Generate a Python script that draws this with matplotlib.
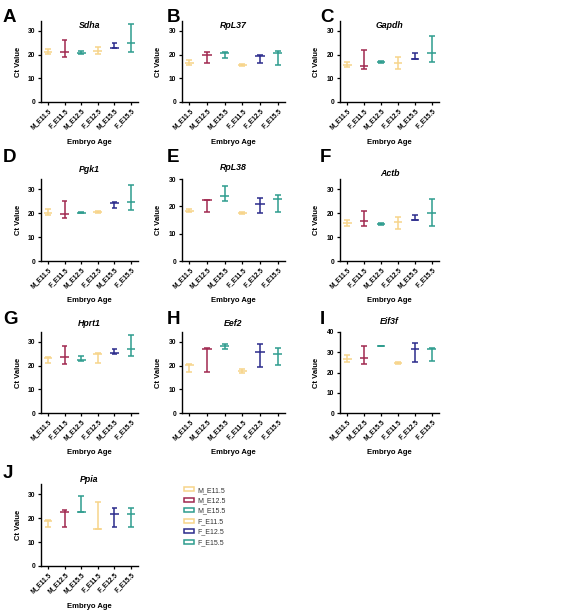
import numpy as np
import matplotlib
matplotlib.use("Agg")
import matplotlib.pyplot as plt
from matplotlib.patches import Patch

plt.rcParams['font.family'] = ['Liberation Sans', 'DejaVu Sans']

groups = ['M_E11.5', 'M_E12.5', 'M_E15.5', 'F_E11.5', 'F_E12.5', 'F_E15.5']
colors = ['#F7D48A', '#A0284F', '#2E9C8E', '#F7D48A', '#2B2B8C', '#2E9C8E']
order_a = ['M_E11.5', 'F_E11.5', 'M_E12.5', 'F_E12.5', 'M_E15.5', 'F_E15.5']
order_b = ['M_E11.5', 'M_E12.5', 'M_E15.5', 'F_E11.5', 'F_E12.5', 'F_E15.5']

letters = ['A', 'B', 'C', 'D', 'E', 'F', 'G', 'H', 'I', 'J']
genes = ['Sdha', 'RpL37', 'Gapdh', 'Pgk1', 'RpL38', 'Actb', 'Hprt1', 'Eef2', 'Eif3f', 'Ppia']
label_orders = [order_a, order_b, order_a, order_a, order_b, order_a, order_a, order_b, order_b, order_b]
ymax = [34.2, 34.2, 34.2, 34.2, 30, 34.2, 34.2, 34.2, 40, 34.2]
yticks = [[0, 10, 20, 30]] * 8 + [[0, 10, 20, 30, 40], [0, 10, 20, 30]]

means = [
    [21.0, 21.3, 20.9, 21.7, 23.0, 25.0],
    [16.5, 20.0, 20.7, 15.6, 19.6, 20.7],
    [15.6, 15.2, 16.7, 16.5, 18.1, 20.8],
    [20.1, 19.6, 20.1, 20.5, 24.0, 24.8],
    [18.4, 22.2, 23.7, 17.5, 20.9, 22.7],
    [15.7, 16.6, 15.3, 16.2, 17.0, 19.9],
    [23.2, 23.7, 22.5, 25.0, 25.3, 27.0],
    [20.2, 27.1, 28.1, 17.9, 25.6, 24.8],
    [26.6, 27.2, 33.1, 24.5, 31.6, 31.8],
    [18.6, 22.6, 22.4, 15.5, 21.8, 21.8],
]
lows = [
    [20.1, 18.8, 20.4, 20.2, 22.8, 21.3],
    [15.7, 16.4, 18.6, 15.2, 16.4, 15.6],
    [14.6, 13.8, 16.3, 14.1, 18.0, 17.0],
    [19.0, 17.9, 19.9, 20.0, 21.9, 21.2],
    [17.9, 18.1, 22.1, 17.3, 17.7, 17.9],
    [14.5, 14.5, 14.9, 13.4, 16.9, 14.8],
    [21.1, 20.8, 21.8, 21.1, 24.9, 23.9],
    [17.2, 17.5, 27.0, 16.9, 19.4, 20.1],
    [25.0, 24.4, 33.1, 24.0, 25.0, 25.6],
    [16.1, 16.3, 22.4, 15.4, 16.3, 16.3],
]
highs = [
    [22.3, 26.0, 21.4, 23.4, 25.1, 32.8],
    [17.8, 21.0, 21.3, 16.0, 19.9, 21.6],
    [17.0, 22.0, 17.2, 19.0, 20.8, 27.9],
    [21.8, 25.2, 20.3, 21.0, 24.6, 31.8],
    [18.9, 22.4, 27.6, 17.8, 23.0, 24.2],
    [17.3, 20.8, 15.7, 18.3, 19.0, 25.8],
    [23.7, 28.4, 24.2, 25.3, 27.1, 33.0],
    [20.5, 27.4, 29.2, 18.7, 29.2, 27.6],
    [28.4, 33.2, 33.1, 25.0, 34.8, 32.3],
    [19.0, 23.3, 29.3, 26.6, 24.3, 24.3],
]

W, H = 566, 616
fig = plt.figure(figsize=(W / 100, H / 100), dpi=100)

col_left = [41, 182, 340]
col_width = [97, 103, 99]
row_top = [21, 179, 332, 484]
row_bot = [102, 261, 413, 566]
letter_x = [3, 167, 320]
letter_y = [18, 157, 319, 473]
title_y = [[26, 26, 26], [170, 168, 173], [324, 324, 322], [479]]

def fx(px):
    return px / W

def fy(py):
    return 1 - py / H

for k, gene in enumerate(genes):
    r, c = divmod(k, 3)
    L, Wd = col_left[c], col_width[c]
    T, B = row_top[r], row_bot[r]
    ax = fig.add_axes([fx(L), fy(B), Wd / W, (B - T) / H])
    x = np.arange(len(groups))
    for i in x:
        col = colors[i]
        ax.vlines(i, lows[k][i], highs[k][i], color=col, lw=1.1)
        ax.hlines([lows[k][i], highs[k][i]], i - 0.17, i + 0.17, color=col, lw=1.1)
        ax.hlines(means[k][i], i - 0.26, i + 0.26, color=col, lw=1.1)
    ax.set_xlim(-0.42, 5.42)
    ax.set_ylim(0, ymax[k])
    ax.set_yticks(yticks[k])
    ax.set_xticks(x)
    ax.set_xticklabels(label_orders[k], rotation=45, ha='right', rotation_mode='anchor',
                       fontsize=4.8, fontweight='bold')
    for lab in ax.get_yticklabels():
        lab.set_fontsize(4.8)
        lab.set_fontweight('bold')
    ax.tick_params(axis='both', length=2.5, width=0.9, pad=1.5)
    for s in ['top', 'right']:
        ax.spines[s].set_visible(False)
    for s in ['left', 'bottom']:
        ax.spines[s].set_linewidth(1.0)
    fig.text(fx(18), fy((T + B) / 2) if c == 0 else fy((T + B) / 2), '', fontsize=1)
    fig.text(fx(L - 23), fy((T + B) / 2), 'Ct Value', fontsize=5.5, fontweight='bold',
             rotation=90, ha='center', va='center')
    fig.text(fx(L + Wd / 2), fy(B + 40), 'Embryo Age', fontsize=5.5, fontweight='bold',
             ha='center', va='center')
    fig.text(fx(L + Wd / 2), fy(title_y[r][c]), gene, fontsize=6.3, fontweight='bold',
             fontstyle='italic', ha='center', va='center')
    fig.text(fx(letter_x[c]), fy(letter_y[r]), letters[k], fontsize=13.5, fontweight='bold',
             ha='left', va='center')

handles = [Patch(facecolor='white', edgecolor=colors[i], linewidth=1.1, label=groups[i])
           for i in range(len(groups))]
fig.legend(handles=handles, loc='upper left', bbox_to_anchor=(fx(181), fy(484)),
           frameon=False, fontsize=5, handlelength=1.4, handleheight=0.55,
           handletextpad=0.6, labelspacing=0.5, borderaxespad=0, labelcolor='#333333')

fig.savefig('out.png', dpi=100)
